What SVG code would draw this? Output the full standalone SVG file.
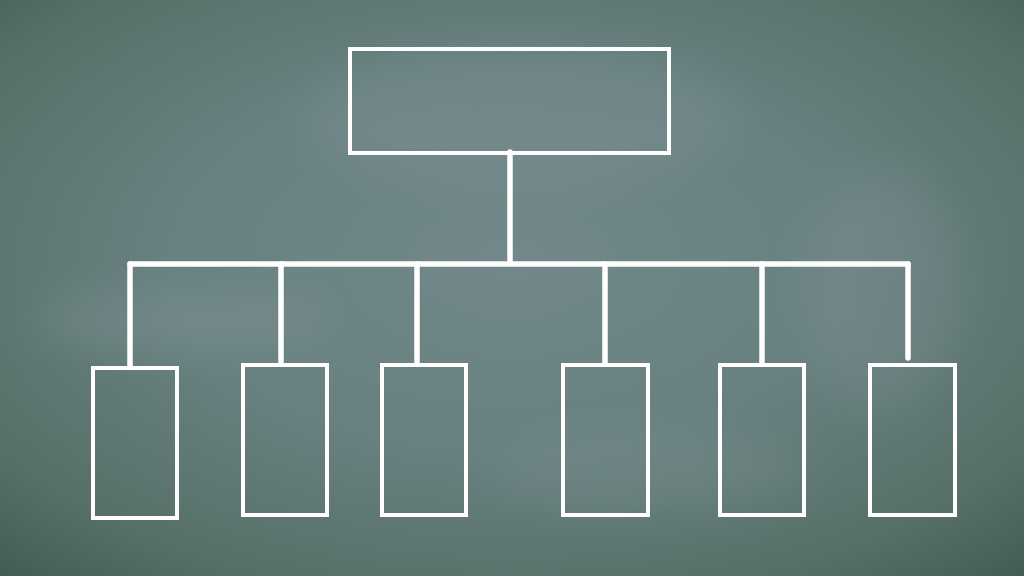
<svg xmlns="http://www.w3.org/2000/svg" width="1024" height="576" viewBox="0 0 1024 576">
  <defs>
    <radialGradient id="board" cx="0.5" cy="0.45" r="0.75">
      <stop offset="0" stop-color="#72888a"/>
      <stop offset="0.45" stop-color="#688080"/>
      <stop offset="0.8" stop-color="#567068"/>
      <stop offset="1" stop-color="#425b53"/>
    </radialGradient>
    <filter id="blur" x="-50%" y="-50%" width="200%" height="200%">
      <feGaussianBlur stdDeviation="22"/>
    </filter>
    <style>
      .box { fill: none; stroke: #ffffff; stroke-width: 4; }
      .line { fill: none; stroke: #ffffff; stroke-width: 5.5; stroke-linecap: round; }
    </style>
  </defs>
  <rect width="1024" height="576" fill="url(#board)"/>
  <g opacity="0.22" filter="url(#blur)">
    <ellipse cx="180" cy="320" rx="150" ry="30" fill="#9aa8ad"/>
    <ellipse cx="520" cy="120" rx="220" ry="70" fill="#8c9ca2"/>
    <ellipse cx="880" cy="290" rx="80" ry="120" fill="#8c9aa0"/>
    <ellipse cx="650" cy="470" rx="160" ry="40" fill="#8a9a9e"/>
  </g>
  <g id="connectors">
    <line class="line" x1="510" y1="152" x2="510" y2="263"/>
    <line class="line" x1="130" y1="264" x2="908" y2="264"/>
    <line class="line" x1="130" y1="264" x2="130" y2="366"/>
    <line class="line" x1="281" y1="264" x2="281" y2="363"/>
    <line class="line" x1="417" y1="264" x2="417" y2="363"/>
    <line class="line" x1="605" y1="264" x2="605" y2="363"/>
    <line class="line" x1="762" y1="264" x2="762" y2="363"/>
    <line class="line" x1="908" y1="264" x2="908" y2="358"/>
  </g>
  <g id="root"><rect class="box" x="350" y="49" width="319" height="104"/></g>
  <g id="child1"><rect class="box" x="93" y="368" width="84" height="150"/></g>
  <g id="child2"><rect class="box" x="243" y="365" width="84" height="150"/></g>
  <g id="child3"><rect class="box" x="382" y="365" width="84" height="150"/></g>
  <g id="child4"><rect class="box" x="563" y="365" width="85" height="150"/></g>
  <g id="child5"><rect class="box" x="720" y="365" width="84" height="150"/></g>
  <g id="child6"><rect class="box" x="870" y="365" width="85" height="150"/></g>
</svg>
